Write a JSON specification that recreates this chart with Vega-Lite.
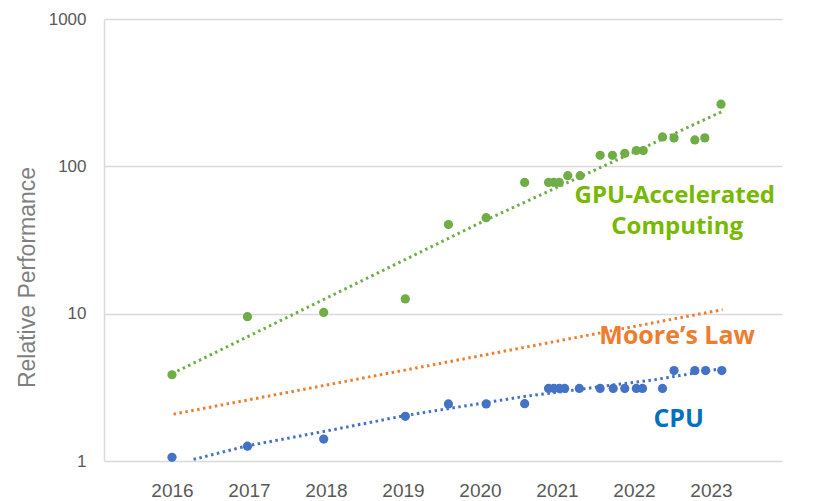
{
  "$schema": "https://vega.github.io/schema/vega-lite/v6.json",
  "width": 678,
  "height": 442,
  "autosize": {"type": "none"},
  "padding": {"left": 104, "top": 19, "right": 39, "bottom": 40},
  "background": "white",
  "config": {"view": {"stroke": null}},
  "datasets": {
    "points": [
      {"series": "GPU", "year": 2016.0, "value": 3.85},
      {"series": "GPU", "year": 2016.98, "value": 9.54},
      {"series": "GPU", "year": 2017.97, "value": 10.2},
      {"series": "GPU", "year": 2019.03, "value": 12.6},
      {"series": "GPU", "year": 2019.59, "value": 40.3},
      {"series": "GPU", "year": 2020.08, "value": 44.8},
      {"series": "GPU", "year": 2020.58, "value": 77.8},
      {"series": "GPU", "year": 2020.89, "value": 77.8},
      {"series": "GPU", "year": 2020.96, "value": 77.8},
      {"series": "GPU", "year": 2021.03, "value": 77.8},
      {"series": "GPU", "year": 2021.14, "value": 86.4},
      {"series": "GPU", "year": 2021.30, "value": 86.4},
      {"series": "GPU", "year": 2021.56, "value": 118.8},
      {"series": "GPU", "year": 2021.72, "value": 118.8},
      {"series": "GPU", "year": 2021.88, "value": 122.5},
      {"series": "GPU", "year": 2022.03, "value": 127.9},
      {"series": "GPU", "year": 2022.12, "value": 127.9},
      {"series": "GPU", "year": 2022.37, "value": 158.3},
      {"series": "GPU", "year": 2022.52, "value": 156},
      {"series": "GPU", "year": 2022.79, "value": 151},
      {"series": "GPU", "year": 2022.92, "value": 156},
      {"series": "GPU", "year": 2023.13, "value": 264},
      {"series": "CPU", "year": 2016.0, "value": 1.06},
      {"series": "CPU", "year": 2016.98, "value": 1.26},
      {"series": "CPU", "year": 2017.97, "value": 1.41},
      {"series": "CPU", "year": 2019.03, "value": 2.01},
      {"series": "CPU", "year": 2019.59, "value": 2.44},
      {"series": "CPU", "year": 2020.08, "value": 2.44},
      {"series": "CPU", "year": 2020.58, "value": 2.45},
      {"series": "CPU", "year": 2020.89, "value": 3.11},
      {"series": "CPU", "year": 2020.96, "value": 3.11},
      {"series": "CPU", "year": 2021.03, "value": 3.11},
      {"series": "CPU", "year": 2021.1, "value": 3.11},
      {"series": "CPU", "year": 2021.29, "value": 3.11},
      {"series": "CPU", "year": 2021.56, "value": 3.11},
      {"series": "CPU", "year": 2021.73, "value": 3.11},
      {"series": "CPU", "year": 2021.88, "value": 3.11},
      {"series": "CPU", "year": 2022.03, "value": 3.11},
      {"series": "CPU", "year": 2022.11, "value": 3.11},
      {"series": "CPU", "year": 2022.37, "value": 3.11},
      {"series": "CPU", "year": 2022.52, "value": 4.11},
      {"series": "CPU", "year": 2022.79, "value": 4.11},
      {"series": "CPU", "year": 2022.93, "value": 4.11},
      {"series": "CPU", "year": 2023.14, "value": 4.11}
    ],
    "trends": [
      {"series": "GPU", "year": 2016.0, "value": 3.91},
      {"series": "GPU", "year": 2020.04, "value": 42.3},
      {"series": "GPU", "year": 2023.14, "value": 234.8},
      {"series": "Moore", "year": 2016.02, "value": 2.08},
      {"series": "Moore", "year": 2023.15, "value": 10.65},
      {"series": "CPU", "year": 2016.28, "value": 1.025},
      {"series": "CPU", "year": 2016.97, "value": 1.265},
      {"series": "CPU", "year": 2017.97, "value": 1.585},
      {"series": "CPU", "year": 2019.04, "value": 2.04},
      {"series": "CPU", "year": 2020.57, "value": 2.74},
      {"series": "CPU", "year": 2022.28, "value": 3.57},
      {"series": "CPU", "year": 2023.12, "value": 4.22}
    ],
    "labels": [
      {"series": "GPU label", "text": "GPU-Accelerated", "year": 2022.53, "value": 56.5, "size": 24},
      {"series": "GPU label", "text": "Computing", "year": 2022.56, "value": 34.8, "size": 24},
      {"series": "Moore label", "text": "Moore’s Law", "year": 2022.56, "value": 6.22, "size": 25},
      {"series": "CPU label", "text": "CPU", "year": 2022.58, "value": 1.71, "size": 25}
    ]
  },
  "encoding": {
    "x": {
      "field": "year",
      "type": "quantitative",
      "scale": {"domain": [2015.117, 2023.922], "nice": false, "zero": false},
      "axis": {
        "values": [2016, 2017, 2018, 2019, 2020, 2021, 2022, 2023],
        "format": "d",
        "title": null,
        "grid": false,
        "domain": false,
        "ticks": false,
        "labelFont": "Liberation Sans",
        "labelFontSize": 19,
        "labelColor": "#595959",
        "labelPadding": 20
      }
    },
    "y": {
      "field": "value",
      "type": "quantitative",
      "scale": {"type": "log", "domain": [1, 1000], "nice": false},
      "axis": {
        "values": [1, 10, 100, 1000],
        "format": "d",
        "title": "Relative Performance",
        "titleFont": "Liberation Sans",
        "titleFontWeight": "normal",
        "titleFontSize": 23,
        "titleColor": "#7f7f7f",
        "titleAngle": -90,
        "titleX": -77,
        "titleY": 258,
        "titleAlign": "center",
        "titleBaseline": "middle",
        "grid": true,
        "gridColor": "#d9d9d9",
        "gridWidth": 1.5,
        "domain": true,
        "domainColor": "#d9d9d9",
        "domainWidth": 1.5,
        "ticks": false,
        "labelFont": "Liberation Sans",
        "labelFontSize": 17,
        "labelColor": "#595959",
        "labelPadding": 18
      }
    }
  },
  "layer": [
    {
      "data": {"name": "points"},
      "mark": {"type": "circle", "size": 85, "opacity": 1},
      "encoding": {
        "color": {
          "field": "series",
          "type": "nominal",
          "scale": {
            "domain": ["GPU", "Moore", "CPU", "GPU label", "Moore label", "CPU label"],
            "range": ["#70ad47", "#ed7d31", "#4472c4", "#76b900", "#ed7d31", "#0070c0"]
          },
          "legend": null
        }
      }
    },
    {
      "data": {"name": "trends"},
      "mark": {"type": "line", "strokeWidth": 3, "strokeDash": [2.5, 3.5], "strokeCap": "butt"},
      "encoding": {
        "color": {"field": "series", "type": "nominal", "legend": null},
        "detail": {"field": "series"}
      }
    },
    {
      "data": {"name": "labels"},
      "mark": {"type": "text", "font": "Open Sans", "fontWeight": "bold", "align": "center", "baseline": "alphabetic"},
      "encoding": {
        "text": {"field": "text"},
        "size": {"field": "size", "type": "quantitative", "scale": null},
        "color": {"field": "series", "type": "nominal", "legend": null}
      }
    }
  ]
}
